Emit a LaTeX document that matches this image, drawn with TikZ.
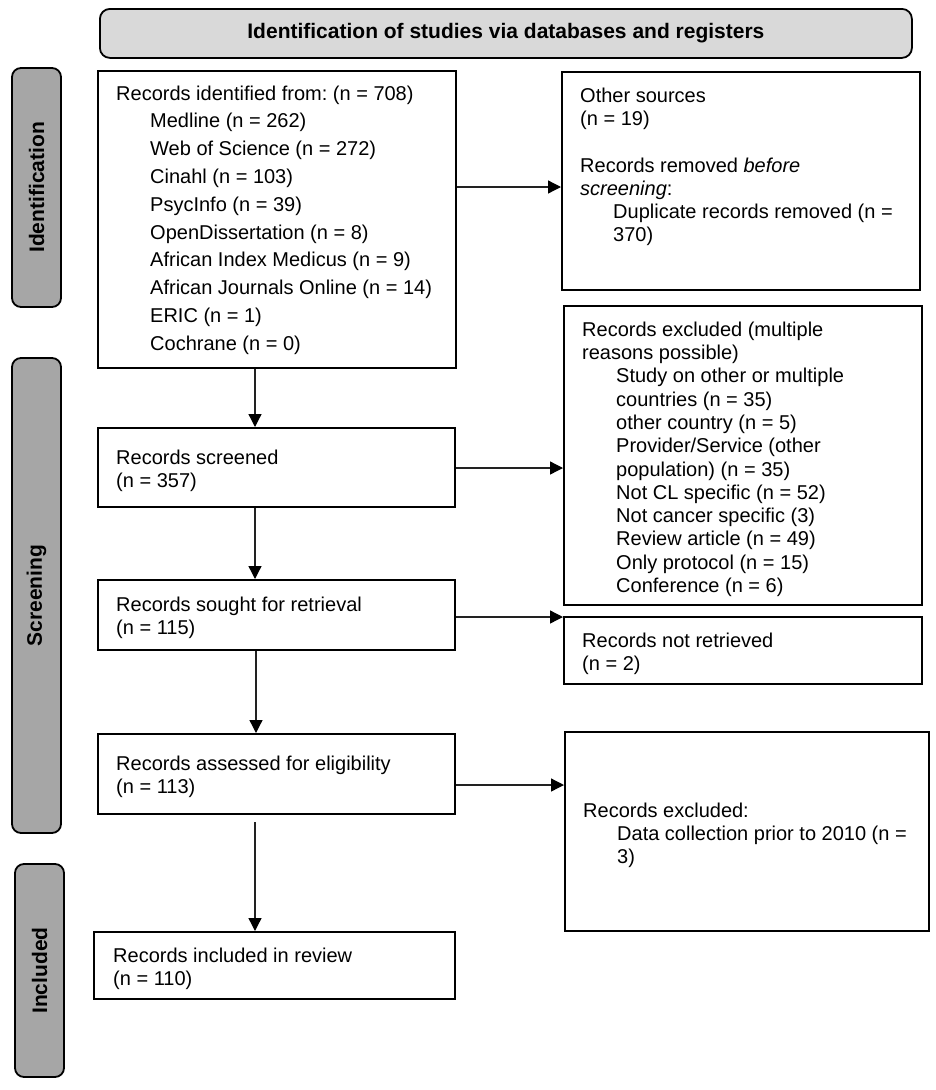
\documentclass[tikz,border=0pt]{standalone}
\usepackage{fontspec}
\setmainfont{Liberation Sans}
\usetikzlibrary{arrows.meta}
\definecolor{titlegray}{HTML}{D9D9D9}
\definecolor{lblgray}{HTML}{A6A6A6}
\definecolor{arrgray}{HTML}{222222}
\newcommand{\ind}{\hspace*{34pt}}
\frenchspacing
\begin{document}
\begin{tikzpicture}[x=1pt,y=-1pt,
  box/.style={draw, line width=1.8pt, inner sep=0pt, anchor=north west},
  titlebox/.style={draw, line width=1.8pt, fill=titlegray, rounded corners=10pt, inner sep=0pt, anchor=north west,
    font=\fontsize{21}{24}\selectfont\bfseries},
  lbl/.style={draw, line width=1.8pt, fill=lblgray, rounded corners=9pt, inner sep=0pt, rotate=90,
    font=\fontsize{21}{24}\selectfont\bfseries},
  txt/.style={anchor=north west, inner sep=0pt, align=left, font=\fontsize{20}{23.3}\selectfont},
  txtA/.style={txt, font=\fontsize{20}{27.8}\selectfont},
  arr/.style={draw=arrgray, line width=1.3pt, -{Triangle[length=13pt,width=13pt,color=black]}}
]
\useasboundingbox (0,0) rectangle (935,1090);

% title and phase labels
\node[titlebox, minimum width=812pt, minimum height=49pt] (title) at (99,8) {Identification of studies via databases and registers};
\node[lbl, minimum width=239pt, minimum height=49pt] (idl) at (36.5,187.5) {Identification};
\node[lbl, minimum width=475pt, minimum height=49pt] (scl) at (36.5,595.5) {Screening};
\node[lbl, minimum width=213pt, minimum height=49pt] (inl) at (39.5,970.5) {Included};

% boxes
\node[box, minimum width=358pt, minimum height=297pt] (A) at (97,70) {};
\node[box, minimum width=358pt, minimum height=218pt] (B) at (561,71) {};
\node[box, minimum width=358pt, minimum height=299pt] (E) at (563,305) {};
\node[box, minimum width=357pt, minimum height=79pt] (C) at (97,427) {};
\node[box, minimum width=358pt, minimum height=67pt] (F) at (563,616) {};
\node[box, minimum width=357pt, minimum height=70pt] (D) at (97,579) {};
\node[box, minimum width=357pt, minimum height=80pt] (G) at (97,733) {};
\node[box, minimum width=364pt, minimum height=199pt] (H) at (564,731) {};
\node[box, minimum width=361pt, minimum height=67pt] (I) at (93,931) {};

% texts
\node[txtA] (At) at (116,85.5) {Records identified from: (n = 708)\\
\ind Medline (n = 262)\\
\ind Web of Science (n = 272)\\
\ind Cinahl (n = 103)\\
\ind PsycInfo (n = 39)\\
\ind OpenDissertation (n = 8)\\
\ind African Index Medicus (n = 9)\\
\ind African Journals Online (n = 14)\\
\ind ERIC (n = 1)\\
\ind Cochrane (n = 0)};
\node[txt] (Bt) at (580,87.5) {Other sources\\
(n = 19)\\[23.3pt]
Records removed \textit{before}\\
\textit{screening}:\\
\hspace*{33pt}Duplicate records removed (n =\\
\hspace*{33pt}370)};
\node[txt] (Et) at (582,321.5) {Records excluded (multiple\\
reasons possible)\\
\ind Study on other or multiple\\
\ind countries (n = 35)\\
\ind other country (n = 5)\\
\ind Provider/Service (other\\
\ind population) (n = 35)\\
\ind Not CL specific (n = 52)\\
\ind Not cancer specific (3)\\
\ind Review article (n = 49)\\
\ind Only protocol (n = 15)\\
\ind Conference (n = 6)};
\node[txt] (Ct) at (116,449.5) {Records screened\\(n = 357)};
\node[txt] (Dt) at (116,596.5) {Records sought for retrieval\\(n = 115)};
\node[txt] (Ft) at (582,632.5) {Records not retrieved\\(n = 2)};
\node[txt] (Gt) at (116,755.5) {Records assessed for eligibility\\(n = 113)};
\node[txt] (Ht) at (583,802.5) {Records excluded:\\
\ind Data collection prior to 2010 (n =\\
\ind 3)};
\node[txt] (It) at (113,947.5) {Records included in review\\(n = 110)};

% connectors
\draw[arr] (A.east |- 0,187) -- (B.west |- 0,187);
\draw[arr] (A.south -| 255,0) -- (C.north -| 255,0);
\draw[arr] (C.east |- 0,468) -- (E.west |- 0,468);
\draw[arr] (C.south -| 255,0) -- (D.north -| 255,0);
\draw[arr] (D.east |- 0,617) -- (F.west |- 0,617);
\draw[arr] (D.south -| 256,0) -- (G.north -| 256,0);
\draw[arr] (G.east |- 0,785) -- (H.west |- 0,785);
\coordinate (Gs) at (255,822);
\draw[arr] (Gs) -- (I.north -| Gs);
\end{tikzpicture}
\end{document}
